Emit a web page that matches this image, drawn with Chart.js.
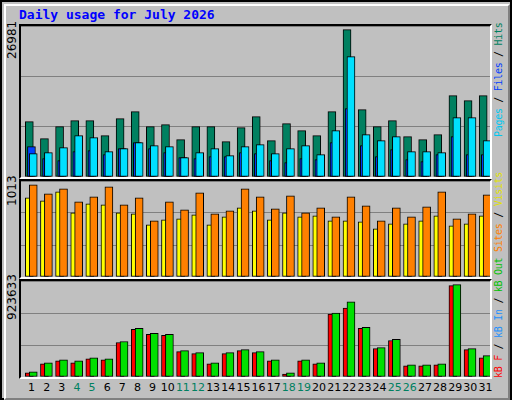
<!DOCTYPE html>
<html>
<head>
<meta charset="utf-8">
<script src="https://cdn.jsdelivr.net/npm/chart.js@4/dist/chart.umd.min.js"></script>
<style>
body{margin:0;background:#fff;}
#frame{position:absolute;left:0;top:0;width:508px;height:396px;background:#c0c0c0;border:2px solid #000;}
#bevel{position:absolute;left:2px;top:2px;width:502px;height:392px;border-top:2px solid #fff;border-left:2px solid #fff;border-right:2px solid #808080;border-bottom:2px solid #808080;}
.panel{position:absolute;left:19px;width:469px;background:#c0c0c0;border-top:2px solid #000;border-left:2px solid #000;border-right:2px solid #fff;border-bottom:2px solid #fff;}
.panel canvas{position:absolute;left:0;top:0;}
#title{position:absolute;left:19px;top:7px;font:bold 13px "DejaVu Sans Mono",monospace;color:#0000ff;}
.ymax{position:absolute;font:12px "DejaVu Sans",sans-serif;color:#000;transform:rotate(-90deg);transform-origin:left top;white-space:nowrap;}
.leg{position:absolute;left:493px;font:10px "DejaVu Sans Mono",monospace;transform:rotate(-90deg);transform-origin:left top;white-space:nowrap;letter-spacing:-0.3px;}
.day{position:absolute;top:381px;width:16px;text-align:center;font:11px "DejaVu Sans",sans-serif;color:#000;}
</style>
</head>
<body>
<div id="frame"><div id="bevel"></div></div>
<div id="title">Daily usage for July 2026</div>
<div class="panel" id="p1" style="top:24px;height:151px"><canvas id="c1"></canvas></div>
<div class="panel" id="p2" style="top:179px;height:96px"><canvas id="c2"></canvas></div>
<div class="panel" id="p3" style="top:279px;height:96px"><canvas id="c3"></canvas></div>
<div class="ymax" style="left:5px;top:59px">26981</div>
<div class="ymax" style="left:5px;top:206px">1013</div>
<div class="ymax" style="left:5px;top:320px">923633</div>
<div class="leg" style="top:137px"><span style="color:#00c8f0">Pages</span> / <span style="color:#0040ff">Files</span> / <span style="color:#008060">Hits</span></div>
<div class="leg" style="top:378px"><span style="color:#ff0000">kB F</span> / <span style="color:#2090ff">kB In</span> / <span style="color:#00c000">kB Out</span> <span style="color:#ff8000">Sites</span> / <span style="color:#e0e000">Visits</span></div>
<div id="days"></div>
<script>
var days = [1,2,3,4,5,6,7,8,9,10,11,12,13,14,15,16,17,18,19,20,21,22,23,24,25,26,27,28,29,30,31];
var weekend = [4,5,11,12,18,19,25,26];
var hits   = [10133,7020,9217,10316,10316,7569,10682,11964,9217,9583,6836,9217,9217,6470,9034,11048,6653,9766,8485,7569,11964,26981,12330,9217,10316,7386,6836,7752,14894,13978,14894];
var files  = [4273,4456,5372,7569,7203,4639,5188,6287,5738,5555,3540,4456,5188,3907,5555,5921,4273,5188,5738,4090,8485,22035,7752,6653,7386,4639,4639,4456,10865,10865,6653];
var pages  = [5555,3357,2991,4639,4822,4090,5188,6287,5188,4456,3540,3357,3723,3723,4456,4273,2991,2625,3357,3174,6287,12513,5738,3723,5005,3174,2808,4090,7386,4090,4090];
var visits = [870,837,936,705,804,793,705,694,573,628,639,683,573,661,760,727,628,705,661,672,617,617,606,529,584,584,617,672,562,584,672];
var sites  = [1013,914,969,826,881,991,793,870,617,826,738,925,694,727,969,881,749,892,705,760,661,881,782,617,760,661,771,936,639,694,903];
var kbIn   = [50745,142086,172533,162384,192831,182682,355215,487152,436407,426258,263874,243576,142086,243576,274023,253725,172533,40596,172533,142086,639387,751026,497301,294321,375513,121788,121788,131937,923633,284172,213129];
var kbF    = [40596,131937,162384,142086,182682,172533,345066,477003,426258,416109,253725,233427,131937,233427,263874,243576,162384,30447,162384,131937,629238,690132,487152,284172,365364,111639,111639,121788,913404,274023,192831];

function pts(arr, shift){ return arr.map(function(v,i){ return {x: days[i]+shift, y: v}; }); }

function ds(label, arr, shift, color){
  return {label: label, data: pts(arr, shift), backgroundColor: color, borderColor: '#000',
          borderWidth: 1, barThickness: 8, grouped: false, borderSkipped: false};
}

function panelChart(id, w, h, datasets, max){
  var c = document.getElementById(id);
  c.width = w; c.height = h; c.style.width = w+'px'; c.style.height = h+'px';
  return new Chart(c, {
    type: 'bar',
    data: {datasets: datasets},
    options: {
      responsive: false, animation: false, devicePixelRatio: 1,
      layout: {padding: 0},
      plugins: {legend: {display: false}, tooltip: {enabled: false}},
      scales: {
        x: {type: 'linear', min: 0.5, max: 31.5, offset: false, display: false},
        y: {min: 0, max: max, display: true, border: {display: false},
            ticks: {display: false, stepSize: max/3},
            grid: {color: '#808080', lineWidth: 1, drawTicks: false}}
      }
    }
  });
}

panelChart('c1', 469, 151, [ds('Files', files, 0.31, '#00e0ff'), ds('Pages', pages, 0.19, '#0040ff'), ds('Hits', hits, 0.05, '#008060')], 27640);
panelChart('c2', 469, 96, [ds('Sites', sites, 0.31, '#ff8000'), ds('Visits', visits, 0.05, '#ffff00')], 1055);
panelChart('c3', 469, 96, [ds('KB In', kbIn, 0.31, '#00e000'), ds('KB F', kbF, 0.05, '#ff0000')], 960000);

var colW = 469/31, box = document.getElementById('days');
days.forEach(function(d){
  var s = document.createElement('div');
  s.className = 'day';
  s.textContent = d;
  s.style.left = (21 + (d-0.5+0.2)*colW - 8) + 'px';
  if (weekend.indexOf(d) >= 0) s.style.color = '#008060';
  box.appendChild(s);
});
</script>
</body>
</html>
